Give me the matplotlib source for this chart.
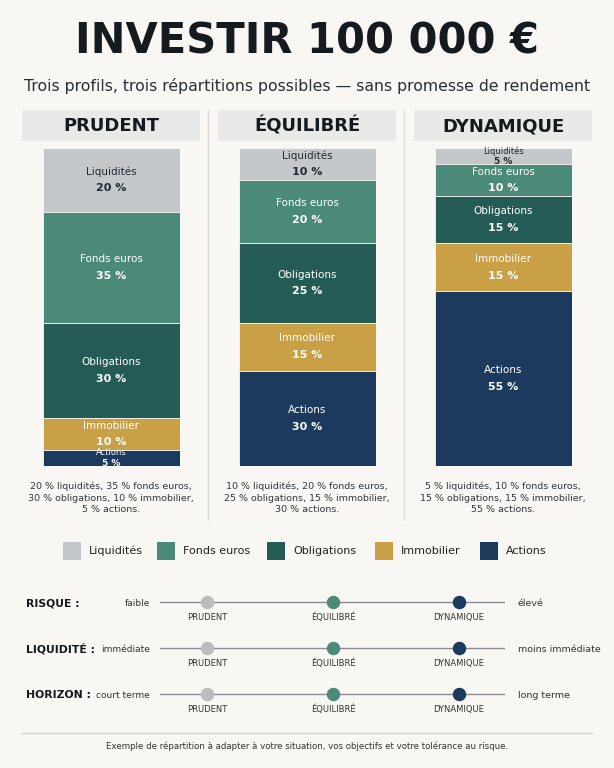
import matplotlib.pyplot as plt
import numpy as np

W, H = 614, 768

profiles = ['PRUDENT', 'ÉQUILIBRÉ', 'DYNAMIQUE']
assets = ['Liquidités', 'Fonds euros', 'Obligations', 'Immobilier', 'Actions']
allocations = [
    [20, 35, 30, 10, 5],
    [10, 20, 25, 15, 30],
    [5, 10, 15, 15, 55],
]
descriptions = [
    '20 % liquidités, 35 % fonds euros,\n30 % obligations, 10 % immobilier,\n5 % actions.',
    '10 % liquidités, 20 % fonds euros,\n25 % obligations, 15 % immobilier,\n30 % actions.',
    '5 % liquidités, 10 % fonds euros,\n15 % obligations, 15 % immobilier,\n55 % actions.',
]
scale_names = ['RISQUE :', 'LIQUIDITÉ :', 'HORIZON :']
scale_low = ['faible', 'immédiate', 'court terme']
scale_high = ['élevé', 'moins immédiate', 'long terme']

colors = ['#c5c8ca', '#4b8a78', '#245b55', '#c9a046', '#1b3a5e']
text_colors = ['#1e2a30', 'white', 'white', 'white', 'white']
dot_colors = ['#bcbcbc', '#4b8a78', '#1b3a5e']
bg = '#f8f7f3'
dark = '#151a1f'

fig = plt.figure(figsize=(W / 100, H / 100), dpi=100, facecolor=bg)
base = fig.add_axes([0, 0, 1, 1])
base.set_xlim(0, W)
base.set_ylim(H, 0)
base.axis('off')
base.set_facecolor(bg)


def px_axes(x0, y0, x1, y1):
    return fig.add_axes([x0 / W, 1 - y1 / H, (x1 - x0) / W, (y1 - y0) / H])


base.text(W / 2, 42, 'INVESTIR 100 000 €', ha='center', va='center', fontsize=30,
          fontweight='heavy', color=dark)
base.text(W / 2, 86, 'Trois profils, trois répartitions possibles — sans promesse de rendement',
          ha='center', va='center', fontsize=11.3, color='#2a2f33')

col_left = [22, 218, 414]
for i, name in enumerate(profiles):
    x0 = col_left[i]
    base.add_patch(plt.Rectangle((x0, 110), 178, 31, color='#e9e9e7', lw=0))
    base.text(x0 + 89, 126, name, ha='center', va='center', fontsize=13,
              fontweight='bold', color=dark)
    if i > 0:
        base.plot([x0 - 10, x0 - 10], [110, 520], color='#dcdcda', lw=1)

    ax = px_axes(x0 + 21, 148, x0 + 158, 466)
    ax.set_xlim(-0.5, 0.5)
    ax.set_ylim(100, 0)
    ax.axis('off')
    bottom = 0
    for j, val in enumerate(allocations[i]):
        ax.bar(0, val, bottom=bottom, width=1, color=colors[j], edgecolor=bg, lw=0.6)
        mid = bottom + val / 2
        fs = 6 if val <= 5 else 7.5
        off = 1.6 if val <= 5 else 2.6
        ax.text(0, mid - off, assets[j], ha='center', va='center', fontsize=fs,
                color=text_colors[j])
        ax.text(0, mid + off, f'{val} %', ha='center', va='center', fontsize=fs + 0.5,
                fontweight='bold', color=text_colors[j])
        bottom += val

    base.text(x0 + 89, 498, descriptions[i], ha='center', va='center', fontsize=6.8,
              color='#33383c', linespacing=1.35)

legend_x = [72, 166, 276, 384, 489]
for j, name in enumerate(assets):
    base.add_patch(plt.Rectangle((legend_x[j] - 9, 542), 18, 18, color=colors[j], lw=0))
    base.text(legend_x[j] + 17, 551, name, ha='left', va='center', fontsize=8, color='#222')

rows_y = [603, 649, 695]
for r, y in enumerate(rows_y):
    base.text(26, y, scale_names[r], ha='left', va='center', fontsize=7.8,
              fontweight='bold', color=dark)
    base.text(150, y, scale_low[r], ha='right', va='center', fontsize=6.5, color='#333')
    base.text(518, y, scale_high[r], ha='left', va='center', fontsize=6.8, color='#333')
    sax = px_axes(160, y - 10, 505, y + 22)
    sax.set_xlim(-47 / 126, 2 + 46 / 126)
    sax.set_ylim(-1, 0.4)
    sax.axis('off')
    sax.axhline(0, color='#8a8d8f', lw=1, zorder=1)
    for k, name in enumerate(profiles):
        sax.scatter(k, 0, s=75, color=dot_colors[k], zorder=3)
        sax.text(k, -0.68, name, ha='center', va='center', fontsize=6,
                 color='#333')

base.plot([22, 592], [733, 733], color='#cfcfcd', lw=1)
base.text(307, 746, 'Exemple de répartition à adapter à votre situation, vos objectifs et votre tolérance au risque.',
          ha='center', va='center', fontsize=6.2, color='#333')

fig.savefig('out.png', dpi=100, facecolor=bg)
